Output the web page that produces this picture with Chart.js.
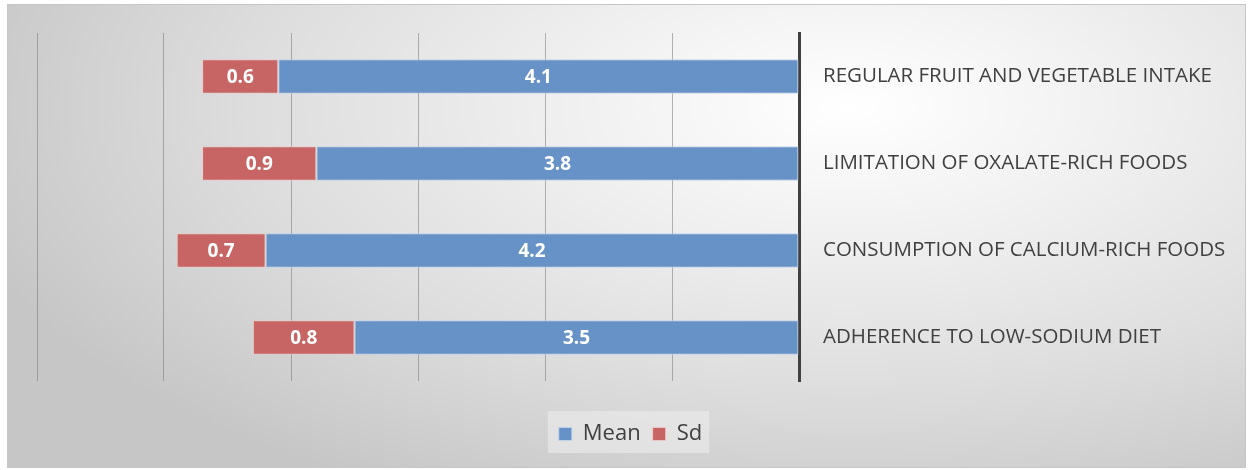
<!DOCTYPE html>
<html>
<head>
<meta charset="utf-8">
<script src="https://cdn.jsdelivr.net/npm/chart.js@4"></script>
<style>
  html, body { margin: 0; padding: 0; background: #ffffff; }
  #frame {
    position: absolute; left: 7px; top: 4px; width: 1237px; height: 462px;
    border: 1px solid #c6c6c6;
    background: radial-gradient(ellipse 75% 95% at 68% 22%, #ffffff 0%, #f0f0f0 30%, #dddddd 65%, #c6c6c6 100%);
  }
  #wrap { position: absolute; left: 0; top: 0; width: 1249px; height: 470px; }
</style>
</head>
<body>
<div id="frame"></div>
<div id="wrap"><canvas id="c" width="1249" height="470"></canvas></div>
<script>
const categories = [
  "REGULAR FRUIT AND VEGETABLE INTAKE",
  "LIMITATION OF OXALATE-RICH FOODS",
  "CONSUMPTION OF CALCIUM-RICH FOODS",
  "ADHERENCE TO LOW-SODIUM DIET"
];
const meanValues = [4.1, 3.8, 4.2, 3.5];
const sdValues = [0.6, 0.9, 0.7, 0.8];
const axisMin = 0;
const axisMax = 6;

const FONT = "'Open Sans', 'Liberation Sans', sans-serif";

const dataLabels = {
  id: 'dataLabels',
  afterDatasetsDraw(chart) {
    const ctx = chart.ctx;
    ctx.save();
    ctx.fillStyle = '#ffffff';
    ctx.font = 'bold 19px ' + FONT;
    ctx.textAlign = 'center';
    ctx.textBaseline = 'middle';
    chart.data.datasets.forEach((ds, i) => {
      const meta = chart.getDatasetMeta(i);
      meta.data.forEach((bar, j) => {
        const cx = (bar.x + bar.base) / 2;
        ctx.fillText(ds.data[j].toFixed(1), cx, bar.y + 1);
      });
    });
    ctx.restore();
  }
};

const legendBg = {
  id: 'legendBg',
  beforeDraw(chart) {
    const lg = chart.legend;
    if (!lg) return;
    const items = lg.legendHitBoxes;
    if (!items || !items.length) return;
    const x0 = items[0].left - 11, x1 = items[items.length - 1].left + items[items.length - 1].width + 7;
    const ctx = chart.ctx;
    ctx.save();
    ctx.fillStyle = 'rgba(238,238,238,0.55)';
    ctx.fillRect(x0, lg.top, x1 - x0, lg.height - 2);
    ctx.restore();
  }
};

new Chart(document.getElementById('c'), {
  type: 'bar',
  data: {
    labels: categories,
    datasets: [
      {
        label: 'Mean',
        data: meanValues,
        backgroundColor: 'rgb(103,146,199)',
        borderColor: 'rgba(190,210,235,0.9)',
        borderWidth: 1,
        borderSkipped: false,
        categoryPercentage: 1,
        barPercentage: 0.395
      },
      {
        label: 'Sd',
        data: sdValues,
        backgroundColor: 'rgb(198,101,99)',
        borderColor: 'rgba(240,200,200,0.9)',
        borderWidth: 1,
        borderSkipped: false,
        categoryPercentage: 1,
        barPercentage: 0.395
      }
    ]
  },
  options: {
    indexAxis: 'y',
    responsive: false,
    animation: false,
    devicePixelRatio: 1,
    layout: { padding: { left: 12, top: 33, right: 0, bottom: 15 } },
    scales: {
      x: {
        stacked: true,
        reverse: true,
        min: axisMin,
        max: axisMax,
        ticks: { display: false, stepSize: 1 },
        border: { display: false },
        grid: {
          color: 'rgba(120,120,120,0.55)',
          lineWidth: 1,
          drawTicks: false
        },
        afterFit(scale) { scale.height = 30; }
      },
      y: {
        stacked: true,
        position: 'right',
        grid: { display: false, drawTicks: false },
        border: { display: true, color: '#404040', width: 3 },
        ticks: {
          color: '#404040',
          font: { family: FONT, size: 20.5 },
          padding: 24,
          crossAlign: 'near'
        },
        afterFit(scale) {
          scale.width = 450;
          scale.paddingTop = 0;
          scale.paddingBottom = 0;
        }
      },
      yLeft: {
        axis: 'y',
        type: 'category',
        position: 'left',
        display: true,
        ticks: { display: false },
        grid: { display: false, drawTicks: false },
        border: { display: false },
        afterFit(scale) { scale.width = 25; scale.paddingTop = 0; scale.paddingBottom = 0; }
      }
    },
    plugins: {
      legend: {
        position: 'bottom',
        labels: {
          color: '#404040',
          font: { family: FONT, size: 22 },
          boxWidth: 13,
          boxHeight: 13,
          padding: 12
        }
      },
      tooltip: { enabled: false }
    }
  },
  plugins: [dataLabels, legendBg]
});
</script>
</body>
</html>
